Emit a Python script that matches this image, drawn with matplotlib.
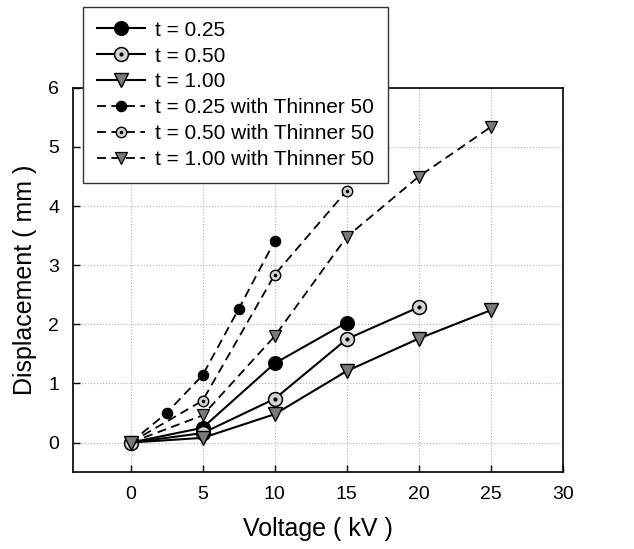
import numpy as np
import matplotlib.pyplot as plt

plt.rcParams['font.family'] = ['Liberation Sans', 'DejaVu Sans']

# t = 0.25 / 0.50 / 1.00 (no thinner)
v_025 = [0, 5, 10, 15]
d_025 = [0, 0.25, 1.34, 2.03]
v_050 = [0, 5, 10, 15, 20]
d_050 = [0, 0.16, 0.74, 1.75, 2.29]
v_100 = [0, 5, 10, 15, 20, 25]
d_100 = [0, 0.08, 0.48, 1.21, 1.76, 2.24]

# with Thinner 50
v_025t = [0, 2.5, 5, 7.5, 10]
d_025t = [0, 0.50, 1.14, 2.26, 3.41]
v_050t = [0, 5, 10, 15]
d_050t = [0, 0.71, 2.84, 4.26]
v_100t = [0, 5, 10, 15, 20, 25]
d_100t = [0, 0.46, 1.80, 3.48, 4.50, 5.34]

xticks = [0, 5, 10, 15, 20, 25, 30]
yticks = [0, 1, 2, 3, 4, 5, 6]

LIGHT = '#d4d4d4'
MID = '#7a7a7a'

fig = plt.figure(figsize=(6.34, 5.49), dpi=100)
ax = fig.add_axes([0.115, 0.140, 0.773, 0.700])

ax.grid(True, linestyle=':', color='#b0b0b0', linewidth=0.8)
ax.set_axisbelow(True)

dash = (0, (5, 3))

# dashed (thinner) series
h4, = ax.plot(v_025t, d_025t, linestyle=dash, color='black', lw=1.3,
              marker='o', ms=7.5, mfc='black', mec='black', mew=0.8)
h5, = ax.plot(v_050t, d_050t, linestyle=dash, color='black', lw=1.3,
              marker='o', ms=7.5, mfc=LIGHT, mec='black', mew=1.0)
h5d, = ax.plot(v_050t, d_050t, linestyle='none', marker='o', ms=1.6,
               mfc='black', mec='black')
h6, = ax.plot(v_100t, d_100t, linestyle=dash, color='black', lw=1.3,
              marker='v', ms=8, mfc=MID, mec='black', mew=0.9)

# solid series
h1, = ax.plot(v_025, d_025, '-', color='black', lw=1.5,
              marker='o', ms=10, mfc='black', mec='black', mew=0.8)
h2, = ax.plot(v_050, d_050, '-', color='black', lw=1.5,
              marker='o', ms=10, mfc=LIGHT, mec='black', mew=1.1)
h2d, = ax.plot(v_050, d_050, linestyle='none', marker='o', ms=2,
               mfc='black', mec='black')
h3, = ax.plot(v_100, d_100, '-', color='black', lw=1.5,
              marker='v', ms=10, mfc=MID, mec='black', mew=1.0)

ax.set_xlim(-4, 30)
ax.set_ylim(-0.5, 6)
ax.set_xticks(xticks)
ax.set_yticks(yticks)
ax.tick_params(direction='in', length=5, width=1, labelsize=14, pad=10,
               top=False, right=False)
for s in ax.spines.values():
    s.set_linewidth(1.2)

ax.set_xlabel('Voltage ( kV )', fontsize=18, labelpad=10)
ax.set_ylabel('Displacement ( mm )', fontsize=18, labelpad=8)

leg = fig.legend([h1, (h2, h2d), h3, h4, (h5, h5d), h6],
                 ['t = 0.25', 't = 0.50', 't = 1.00',
                  't = 0.25 with Thinner 50', 't = 0.50 with Thinner 50',
                  't = 1.00 with Thinner 50'],
                 loc='upper left', bbox_to_anchor=(0.131, 0.987),
                 borderaxespad=0,
                 fontsize=15, numpoints=1, handlelength=2.3,
                 labelspacing=0.33, borderpad=0.65, handletextpad=0.5,
                 fancybox=False, framealpha=1, edgecolor='#333333')
leg.get_frame().set_linewidth(1.0)

fig.savefig('out.png', dpi=100)
